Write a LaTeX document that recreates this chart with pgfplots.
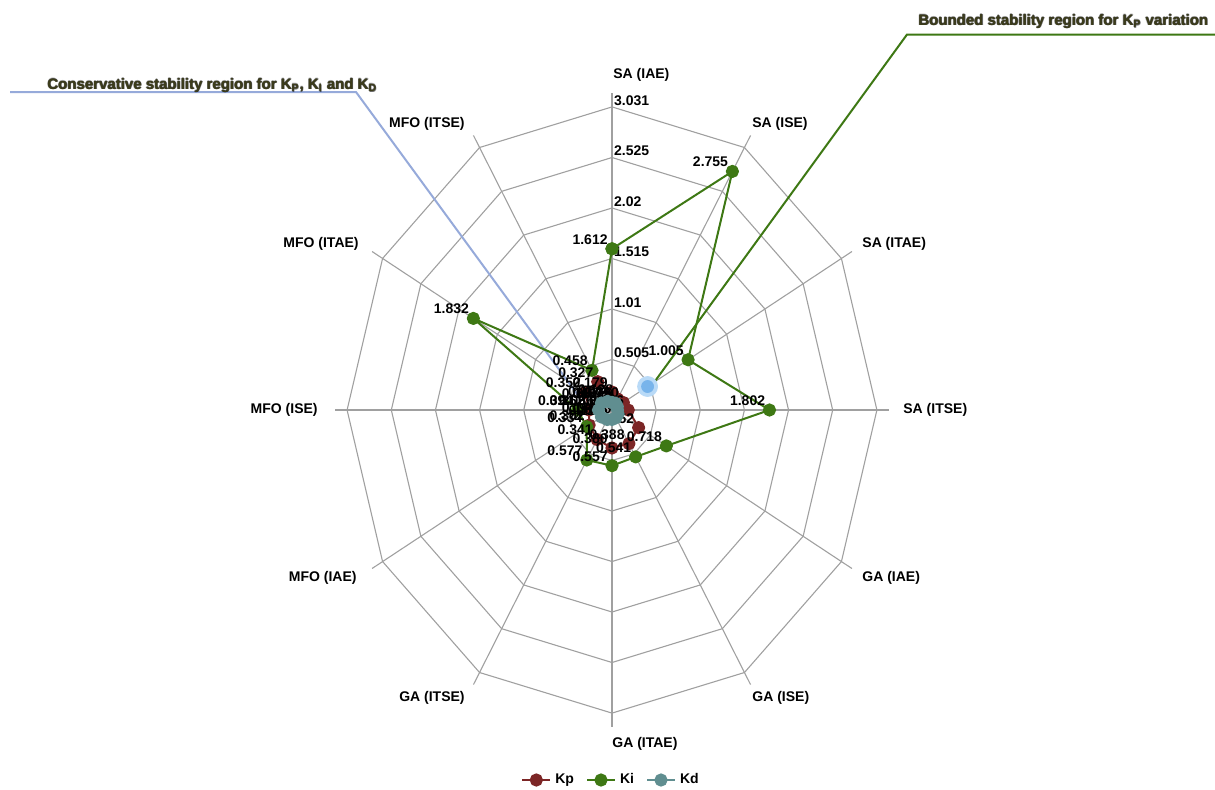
\documentclass[border=0pt]{standalone}
\usepackage{pgfplots}
\pgfplotsset{compat=1.18}
\usepackage{pgfplotstable}
\usepackage{fontspec}
\setmainfont{Liberation Sans}
\usetikzlibrary{calc}

\definecolor{kpc}{RGB}{124,38,38}
\definecolor{kic}{RGB}{62,120,20}
\definecolor{kdc}{RGB}{96,142,144}
\definecolor{gridc}{RGB}{160,160,160}
\definecolor{calltxt}{RGB}{60,60,26}
\definecolor{callblue}{RGB}{150,170,218}
\definecolor{hlc}{RGB}{120,180,235}
\definecolor{hlhalo}{RGB}{185,218,247}
\newcommand\lf{\bfseries\fontsize{7}{8.4}\selectfont}
\newcommand\cf{\bfseries\fontsize{7.5}{9}\selectfont}

% angle (clockwise from SA (IAE)), value, label
\pgfplotstableread{
ang r lab
0 0.179 0.179
30 0.128 0.128
60 0.150 0.150
90 0.186 0.186
120 0.352 0.352
150 0.388 0.388
180 0.380 0.380
210 0.341 0.341
240 0.302 0.302
270 0.262 0.262
300 0.352 0.352
330 0.327 0.327
360 0.179 0.179
}\kptable

\pgfplotstableread{
ang r lab
0 1.612 1.612
30 2.755 2.755
60 1.005 1.005
90 1.802 1.802
120 0.718 0.718
150 0.541 0.541
180 0.557 0.557
210 0.577 0.577
240 0.334 0.334
270 0.394 0.394
300 1.832 1.832
330 0.458 0.458
360 1.612 1.612
}\kitable

\pgfplotstableread{
ang r lab
0 0.075 0.075
30 0.079 0.079
60 0.070 0.070
90 0.063 0.063
120 0.080 0.080
150 0.090 0.090
180 0.095 0.095
210 0.110 0.110
240 0.140 0.140
270 0.155 0.036
300 0.140 0.140
330 0.100 0.100
360 0.075 0.075
}\kdtable

\newcommand\callout[2]{%
  \foreach \dx/\dy in {-0.6/0,0.6/0,0/-0.6,0/0.6,0.8/0.8}
    \node[anchor=base west,inner sep=0pt,font=\cf,text=black,opacity=0.35] at ($(#1)+(\dx,\dy)$) {#2};
  \node[anchor=base west,inner sep=0pt,font=\cf,text=calltxt] at (#1) {#2};}

\begin{document}
\begin{tikzpicture}[x=0.5pt,y=-0.5pt]
\useasboundingbox (0,0) rectangle (1215,789);
% radar grid
\begin{scope}[shift={(612,410)},x=43.7pt,y=50pt]
  \foreach \a in {0,30,...,330} \draw[gridc,line width=0.55pt] (0,0) -- ({3.17*sin(\a)},{3.17*cos(\a)});
  \foreach \k in {0.505,1.01,1.515,2.02,2.525,3.031}
    \draw[gridc,line width=0.55pt] (0,\k) \foreach \a in {30,60,...,330}{ -- ({\k*sin(\a)},{\k*cos(\a)})} -- cycle;
\end{scope}
% radial tick labels
\foreach \k/\t in {0.505/0.505,1.01/1.01,1.515/1.515,2.02/2.02,2.525/2.525,3.031/3.031}
  \node[anchor=south west,inner sep=0.6pt,font=\lf] at (612.5,{410-100*\k}) {\t};
% category labels
\node[anchor=west,inner sep=0pt,font=\lf] at (613,75) {SA (IAE)};
\node[anchor=west,inner sep=0pt,font=\lf] at (752,124) {SA (ISE)};
\node[anchor=west,inner sep=0pt,font=\lf] at (862,244) {SA (ITAE)};
\node[anchor=west,inner sep=0pt,font=\lf] at (903,410) {SA (ITSE)};
\node[anchor=west,inner sep=0pt,font=\lf] at (862,578) {GA (IAE)};
\node[anchor=west,inner sep=0pt,font=\lf] at (752,698) {GA (ISE)};
\node[anchor=west,inner sep=0pt,font=\lf] at (612,744) {GA (ITAE)};
\node[anchor=east,inner sep=0pt,font=\lf] at (465,698) {GA (ITSE)};
\node[anchor=east,inner sep=0pt,font=\lf] at (357,578) {MFO (IAE)};
\node[anchor=east,inner sep=0pt,font=\lf] at (318,410) {MFO (ISE)};
\node[anchor=east,inner sep=0pt,font=\lf] at (359,244) {MFO (ITAE)};
\node[anchor=east,inner sep=0pt,font=\lf] at (465,124) {MFO (ITSE)};
% callouts
\draw[kic,line width=1pt] (1215,34.5) -- (907,34.5) -- (650,388);
\draw[callblue,line width=1pt] (10,92) -- (356,92) -- (580,398);
\callout{918,25}{Bounded stability region for K\textsubscript{P} variation}
\callout{47,89}{Conservative stability region for K\textsubscript{P}, K\textsubscript{I} and K\textsubscript{D}}

\begin{axis}[
  at={(153.05pt,-390pt)}, anchor=south west,
  x=43.7pt, y=50pt,
  xmin=-3.5, xmax=3.5, ymin=-3.7, ymax=3.7,
  hide axis, clip=false,
  legend columns=3,
  legend style={at={(0.5,0)}, anchor=center, draw=none, fill=none, font=\lf,
    /tikz/every even column/.append style={column sep=4pt}},
  legend image code/.code={\draw[mark repeat=2,mark phase=2,#1] plot coordinates {(0pt,0pt) (7pt,0pt) (14pt,0pt)};},
  every axis plot/.append style={line join=round},
  lbl/.style={forget plot, draw=none, mark=none,
    nodes near coords, point meta=explicit symbolic,
    every node near coord/.append style={anchor=south east, inner sep=2pt, font=\lf, text=black}},
]
\addplot[kpc, line width=1pt, mark=*, mark size=2.8pt, mark options={solid,draw=kpc,fill=kpc}]
  table[x expr={\thisrow{r}*sin(\thisrow{ang})}, y expr={\thisrow{r}*cos(\thisrow{ang})}] {\kptable};
\addlegendentry{Kp}
\addplot[kic, line width=1pt, mark=*, mark size=2.8pt, mark options={solid,draw=kic,fill=kic}]
  table[x expr={\thisrow{r}*sin(\thisrow{ang})}, y expr={\thisrow{r}*cos(\thisrow{ang})}] {\kitable};
\addlegendentry{Ki}
% data labels
\addplot[lbl] table[x expr={\thisrow{r}*sin(\thisrow{ang})}, y expr={\thisrow{r}*cos(\thisrow{ang})}, meta=lab, skip coords between index={12}{13}] {\kptable};
\addplot[lbl] table[x expr={\thisrow{r}*sin(\thisrow{ang})}, y expr={\thisrow{r}*cos(\thisrow{ang})}, meta=lab, skip coords between index={12}{13}] {\kitable};
\addplot[lbl] table[x expr={\thisrow{r}*sin(\thisrow{ang})}, y expr={\thisrow{r}*cos(\thisrow{ang})}, meta=lab, skip coords between index={12}{13}] {\kdtable};
% Kd series drawn on top
\addplot[kdc, line width=1pt, mark=*, mark size=2.8pt, mark options={solid,draw=kdc,fill=kdc}]
  table[x expr={\thisrow{r}*sin(\thisrow{ang})}, y expr={\thisrow{r}*cos(\thisrow{ang})}] {\kdtable};
\addlegendentry{Kd}
% highlighted point
\addplot[hlhalo, forget plot, only marks, mark=*, mark size=5pt, mark options={draw=hlhalo, fill=hlhalo}] coordinates {(0.407,0.235)};
\addplot[hlc, forget plot, only marks, mark=*, mark size=3pt, mark options={draw=hlc, fill=hlc}] coordinates {(0.407,0.235)};
\end{axis}
\end{tikzpicture}
\end{document}
